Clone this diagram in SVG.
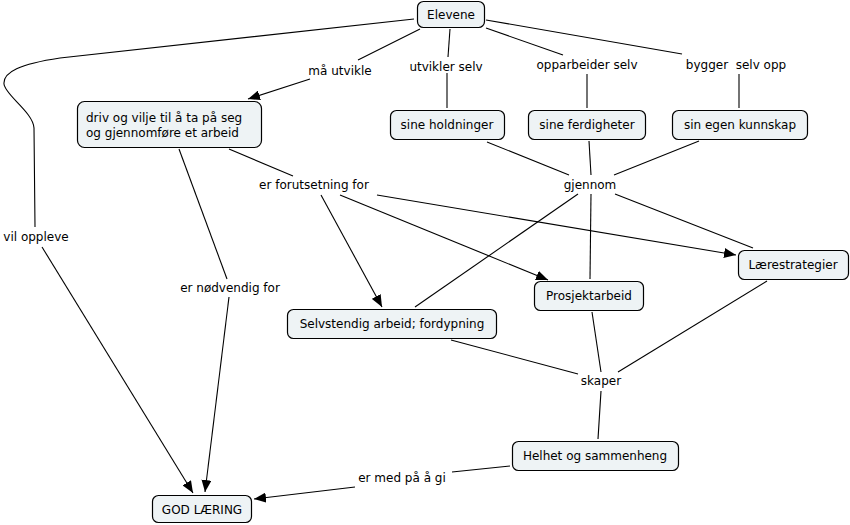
<svg xmlns="http://www.w3.org/2000/svg" width="850" height="525" viewBox="0 0 850 525">
<defs>
<marker id="arr" viewBox="0 0 12 10" refX="12" refY="5" markerWidth="12" markerHeight="10" markerUnits="userSpaceOnUse" orient="auto">
<path d="M0,0 L12,5 L0,10 Z" fill="#000"/>
</marker>
<style>
.n rect{fill:#eef3f5;stroke:#000;stroke-width:1.2}
text{font-family:"DejaVu Sans",Verdana,sans-serif;font-size:12px;fill:#000}
.c{text-anchor:middle}
#connectors path,#connectors line{stroke:#000;stroke-width:1.1;fill:none}
.a{marker-end:url(#arr)}
</style>
</defs>
<rect width="850" height="525" fill="#fff"/>
<g id="connectors">
<path d="M414 19 L60 58 C20 64 3 72 4 84 C5 95 33 112 34 128 L35 227"/>
<line x1="42" y1="247" x2="193" y2="493" class="a"/>
<line x1="420" y1="29" x2="358" y2="60"/>
<line x1="310" y1="79" x2="248" y2="99" class="a"/>
<line x1="450" y1="29" x2="448" y2="57"/>
<line x1="447" y1="73" x2="447" y2="108"/>
<line x1="486" y1="28" x2="563" y2="55"/>
<line x1="587" y1="74" x2="587" y2="108"/>
<line x1="486" y1="20" x2="682" y2="54"/>
<line x1="739" y1="74" x2="739" y2="108"/>
<line x1="229" y1="149" x2="293" y2="176"/>
<line x1="321" y1="195" x2="382" y2="307" class="a"/>
<line x1="340" y1="195" x2="548" y2="280" class="a"/>
<line x1="377" y1="195" x2="736" y2="255" class="a"/>
<line x1="179" y1="149" x2="227" y2="279"/>
<line x1="229" y1="297" x2="205" y2="492" class="a"/>
<line x1="487" y1="142" x2="569" y2="175"/>
<line x1="589" y1="141" x2="591" y2="175"/>
<line x1="699" y1="141" x2="614" y2="175"/>
<line x1="578" y1="194" x2="415" y2="307"/>
<line x1="591" y1="194" x2="590" y2="279"/>
<line x1="615" y1="194" x2="753" y2="248"/>
<line x1="451" y1="340" x2="578" y2="374"/>
<line x1="592" y1="312" x2="601" y2="372"/>
<line x1="767" y1="281" x2="618" y2="372"/>
<line x1="601" y1="391" x2="598" y2="439"/>
<line x1="510" y1="466" x2="452" y2="472"/>
<line x1="355" y1="487" x2="254" y2="499" class="a"/>
</g>
<g id="labels">
<text class="c" x="340" y="75">må utvikle</text>
<text class="c" x="446" y="71">utvikler selv</text>
<text class="c" x="587" y="69">opparbeider selv</text>
<text class="c" x="736" y="69" xml:space="preserve">bygger  selv opp</text>
<text class="c" x="590" y="189">gjennom</text>
<text class="c" x="314" y="189">er forutsetning for</text>
<text class="c" x="36" y="241">vil oppleve</text>
<text class="c" x="230" y="292">er nødvendig for</text>
<text class="c" x="601" y="385">skaper</text>
<text class="c" x="402" y="482">er med på å gi</text>
</g>
<g id="elevene" class="n"><rect x="417.5" y="1.5" width="67" height="26" rx="6"/><text class="c" x="451" y="19">Elevene</text></g>
<g id="driv" class="n"><rect x="77.5" y="101.5" width="184" height="46" rx="7"/><text x="86" y="122">driv og vilje til å ta på seg</text><text x="86" y="137">og gjennomføre et arbeid</text></g>
<g id="holdninger" class="n"><rect x="390.5" y="110.5" width="114" height="29" rx="6"/><text class="c" x="447" y="129">sine holdninger</text></g>
<g id="ferdigheter" class="n"><rect x="528.5" y="110.5" width="117" height="29" rx="6"/><text class="c" x="587" y="129">sine ferdigheter</text></g>
<g id="kunnskap" class="n"><rect x="672.5" y="110.5" width="135" height="29" rx="6"/><text class="c" x="740" y="129">sin egen kunnskap</text></g>
<g id="laerestrategier" class="n"><rect x="738.5" y="250.5" width="110" height="29" rx="6"/><text class="c" x="793" y="269">Lærestrategier</text></g>
<g id="prosjektarbeid" class="n"><rect x="534.5" y="281.5" width="109" height="29" rx="6"/><text class="c" x="589" y="300">Prosjektarbeid</text></g>
<g id="selvstendig" class="n"><rect x="287.5" y="309.5" width="209" height="29" rx="6"/><text class="c" x="392" y="328">Selvstendig arbeid; fordypning</text></g>
<g id="helhet" class="n"><rect x="512.5" y="441.5" width="166" height="29" rx="6"/><text class="c" x="595" y="460">Helhet og sammenheng</text></g>
<g id="godlaering" class="n"><rect x="152.5" y="495.5" width="99" height="27" rx="6"/><text class="c" x="202" y="514">GOD LÆRING</text></g>
</svg>
